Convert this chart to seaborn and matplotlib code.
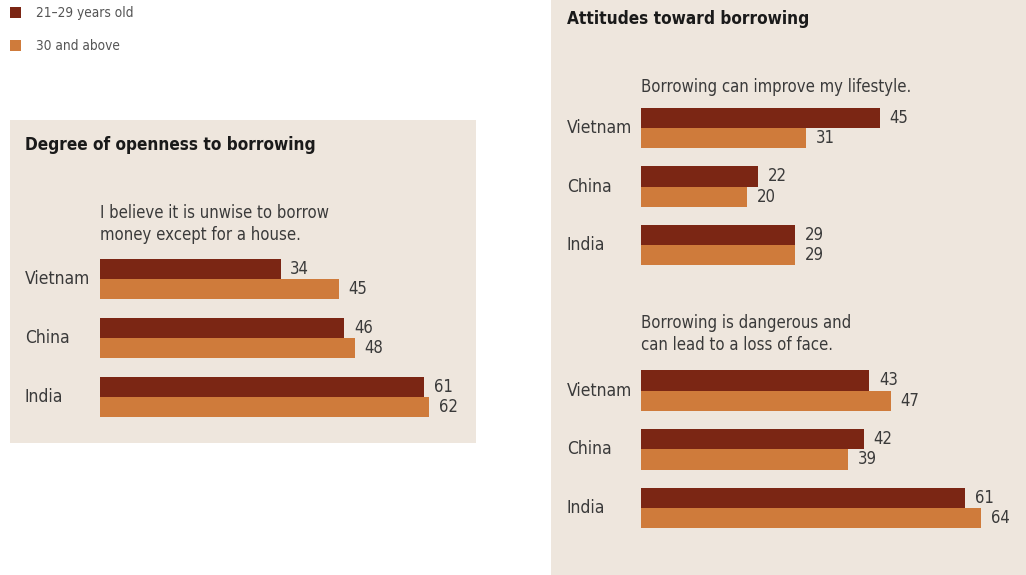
import matplotlib
matplotlib.use("Agg")
import matplotlib.pyplot as plt
import matplotlib.transforms as mtrans
from matplotlib.patches import Rectangle
import seaborn as sns
import pandas as pd
from matplotlib import font_manager

sns.set_style("white")
names = {f.name for f in font_manager.fontManager.ttflist}
base = "Liberation Sans Narrow" if "Liberation Sans Narrow" in names else "DejaVu Sans"
plt.rcParams["font.family"] = [base, "DejaVu Sans"]
plt.rcParams["font.stretch"] = "condensed"

# ---- data ----
countries = ["Vietnam", "China", "India"]
groups = ["21\u201329 years old", "30 and above"]
unwise_young = [34, 46, 61]
unwise_old = [45, 48, 62]
improve_young = [45, 22, 29]
improve_old = [31, 20, 29]
danger_young = [43, 42, 61]
danger_old = [47, 39, 64]

DARK = "#7B2614"
LIGHT = "#CF7B3B"
BG = "#EEE6DD"
TXT = "#3a3a3a"

W, H = 1026, 575
fig = plt.figure(figsize=(W / 100, H / 100), dpi=100)
fig.patch.set_facecolor("white")

def fx(px):
    return px / W

def fy(py):
    return 1 - py / H

# panel backgrounds
fig.patches.append(Rectangle((fx(10), fy(443)), fx(476) - fx(10), fy(120) - fy(443),
                             transform=fig.transFigure, facecolor=BG, edgecolor="none", zorder=-5))
fig.patches.append(Rectangle((fx(551), fy(575)), fx(1026) - fx(551), fy(0) - fy(575),
                             transform=fig.transFigure, facecolor=BG, edgecolor="none", zorder=-5))

# legend
for i, (g, c) in enumerate(zip(groups, [DARK, LIGHT])):
    y0 = 7 + i * 33
    fig.patches.append(Rectangle((fx(10), fy(y0 + 11)), fx(11), fy(0) - fy(11),
                                 transform=fig.transFigure, facecolor=c, edgecolor="none"))
    fig.text(fx(36), fy(y0 + 5.5), g, fontsize=9.8, color="#555555", va="center", ha="left")

SCALE = 5.31  # px per unit


def panel(left_px, right_px, center0_px, spacing_px, young, old, label_x_px):
    top = center0_px - spacing_px / 2
    height = 3 * spacing_px
    ax = fig.add_axes([fx(left_px), fy(top + height), fx(right_px - left_px), height / H])
    ax.set_zorder(2)
    df = pd.DataFrame({
        "country": countries * 2,
        "value": list(young) + list(old),
        "group": [groups[0]] * 3 + [groups[1]] * 3,
    })
    sns.barplot(data=df, y="country", x="value", hue="group", orient="h",
                palette=[DARK, LIGHT], saturation=1, width=0.69, gap=0, ax=ax,
                legend=False, edgecolor="none", linewidth=0)
    ax.set_xlim(0, (right_px - left_px) / SCALE)
    ax.set_ylim(2.5, -0.5)
    ax.set_facecolor("none")
    ax.patch.set_alpha(0)
    for s in ax.spines.values():
        s.set_visible(False)
    ax.set_xticks([])
    ax.set_yticks([])
    ax.set_xlabel("")
    ax.set_ylabel("")
    for cont in ax.containers:
        ax.bar_label(cont, padding=7, fontsize=12, color=TXT)
    tr = mtrans.blended_transform_factory(fig.transFigure, ax.transData)
    for i, c in enumerate(countries):
        ax.text(fx(label_x_px), i, c, transform=tr, fontsize=12.5, color=TXT,
                ha="left", va="center", clip_on=False)
    return ax


panel(100, 476, 279, 59, unwise_young, unwise_old, 25)
panel(641, 1026, 128, 58.5, improve_young, improve_old, 567)
panel(641, 1026, 390.5, 58.8, danger_young, danger_old, 567)

# titles and statements
fig.text(fx(25), fy(145), "Degree of openness to borrowing", fontsize=12.3,
         fontweight="bold", color="#1a1a1a", va="center", ha="left")
fig.text(fx(567), fy(19), "Attitudes toward borrowing", fontsize=12.3,
         fontweight="bold", color="#1a1a1a", va="center", ha="left")
fig.text(fx(100), fy(224), "I believe it is unwise to borrow\nmoney except for a house.",
         fontsize=12, color=TXT, va="center", ha="left", linespacing=1.3)
fig.text(fx(641), fy(87), "Borrowing can improve my lifestyle.",
         fontsize=12, color=TXT, va="center", ha="left")
fig.text(fx(641), fy(334), "Borrowing is dangerous and\ncan lead to a loss of face.",
         fontsize=12, color=TXT, va="center", ha="left", linespacing=1.3)

fig.savefig("out.png", dpi=100, facecolor="white")
